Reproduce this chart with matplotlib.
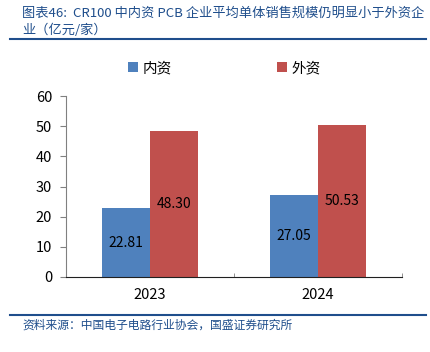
#!/usr/bin/env python3
# cr100_bar.py

import numpy as np
import matplotlib
matplotlib.use("Agg")
import matplotlib.pyplot as plt
from matplotlib.lines import Line2D

plt.rcParams["font.family"] = ["Noto Sans CJK SC", "DejaVu Sans"]

years = ["2023", "2024"]
series_names = ["内资", "外资"]
domestic = [22.81, 27.05]
foreign = [48.30, 50.53]
y_ticks = [0, 10, 20, 30, 40, 50, 60]

title_1 = "图表46:  CR100 中内资 PCB 企业平均单体销售规模仍明显小于外资企"
title_2 = "业（亿元/家）"
source = "资料来源：中国电子电路行业协会，国盛证券研究所"

blue = "#4F81BD"
red = "#C0504D"
navy = "#1F4E8C"

fig = plt.figure(figsize=(4.3, 3.52), dpi=100)
ax = fig.add_axes([66 / 430, 1 - 277 / 352, 336 / 430, 181 / 352])

x = np.arange(len(years))
w = 0.286
b1 = ax.bar(x - w / 2, domestic, w, color=blue, label=series_names[0])
b2 = ax.bar(x + w / 2, foreign, w, color=red, label=series_names[1])

for bars, vals in ((b1, domestic), (b2, foreign)):
    for rect, v in zip(bars, vals):
        ax.text(rect.get_x() + rect.get_width() / 2, v / 2, f"{v:.2f}",
                ha="center", va="center", fontsize=10, color="black")

ax.set_xlim(-0.5, len(years) - 0.5)
ax.set_ylim(0, 60)
ax.set_yticks(y_ticks)
ax.set_xticks(x)
ax.set_xticklabels(years)
ax.set_xticks([-0.5, 0.5, 1.5], minor=True)
ax.tick_params(axis="x", which="major", length=0, pad=8, labelsize=10.5)
ax.tick_params(axis="x", which="minor", direction="in", length=3, color="#808080")
ax.tick_params(axis="y", direction="out", length=4, width=0.8, color="#808080",
               pad=6, labelsize=10.5)

for s in ("top", "right"):
    ax.spines[s].set_visible(False)
ax.spines["left"].set_color("#808080")
ax.spines["bottom"].set_color("#202020")

fig.legend(handles=[b1, b2], labels=series_names, loc="center",
           bbox_to_anchor=(224 / 430, 1 - 68 / 352), ncol=2, frameon=False,
           fontsize=10.5, handlelength=0.7, handleheight=0.7, handletextpad=0.3,
           columnspacing=7.2)

fig.text(22 / 430, 1 - 13 / 352, title_1, fontsize=9.5, color=navy,
         ha="left", va="center", fontweight="light")
fig.text(22 / 430, 1 - 30 / 352, title_2, fontsize=9.5, color=navy,
         ha="left", va="center", fontweight="light")
fig.add_artist(Line2D([10 / 430, 426 / 430], [1 - 39 / 352, 1 - 39 / 352],
                      color=navy, linewidth=1.5))
fig.add_artist(Line2D([10 / 430, 426 / 430], [1 - 315 / 352, 1 - 315 / 352],
                      color=navy, linewidth=1.5))
fig.text(22 / 430, 1 - 325 / 352, source, fontsize=8.5, color=navy,
         ha="left", va="center", fontweight="light")

fig.savefig("out.png", dpi=100)
